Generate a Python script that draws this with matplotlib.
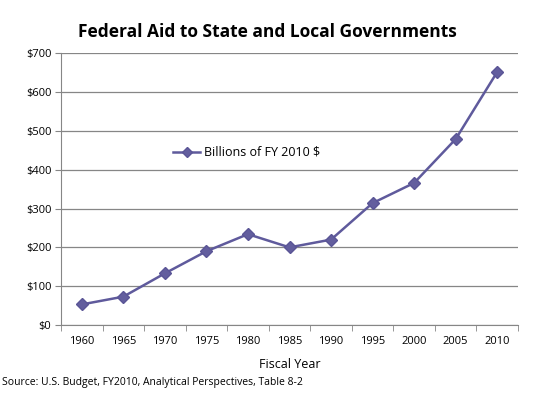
import numpy as np
import matplotlib.pyplot as plt
from matplotlib.ticker import FixedLocator

years = ['1960', '1965', '1970', '1975', '1980', '1985', '1990', '1995', '2000', '2005', '2010']
aid = [53, 73, 133, 190, 234, 200, 220, 314, 366, 479, 652]
yticks = [0, 100, 200, 300, 400, 500, 600, 700]

plt.rcParams['font.family'] = ['Open Sans', 'DejaVu Sans']

fig = plt.figure(figsize=(5.35, 3.98), dpi=100)
ax = fig.add_axes([61 / 535, 73 / 398, 457 / 535, 271.7 / 398])

x = np.arange(len(years))
ax.plot(x, aid, color='#5F5A9C', lw=1.8, marker='D', ms=6,
        markerfacecolor='#635E9E', markeredgecolor='#5A5596',
        label='Billions of FY 2010 $')

ax.set_xlim(-0.5, len(years) - 0.5)
ax.set_ylim(0, 700)
ax.set_xticks(x)
ax.set_xticklabels(years, fontsize=8)
ax.xaxis.set_minor_locator(FixedLocator(np.arange(-0.5, len(years), 1)))
ax.tick_params(axis='x', which='major', length=0, pad=8)
ax.tick_params(axis='x', which='minor', length=4, color='#868686')
ax.set_yticks(yticks)
ax.set_yticklabels(['$' + str(v) for v in yticks], fontsize=8)
ax.tick_params(axis='y', length=4, color='#868686', pad=3)

ax.grid(axis='y', color='#868686', lw=0.9)
ax.set_axisbelow(True)
for s in ['top', 'right']:
    ax.spines[s].set_visible(False)
for s in ['left', 'bottom']:
    ax.spines[s].set_color('#868686')

ax.set_xlabel('Fiscal Year', fontsize=9, labelpad=8)
fig.text(0.5, 1 - 32 / 398, 'Federal Aid to State and Local Governments',
         ha='center', va='center', fontsize=12.5, fontweight='bold')
fig.text(2 / 535, 1 - 382 / 398, 'Source: U.S. Budget, FY2010, Analytical Perspectives, Table 8-2',
         ha='left', va='center', fontsize=7.5)

ax.legend(loc='center left', bbox_to_anchor=(0.22, 0.635), frameon=False,
          fontsize=9, handlelength=2.2, handletextpad=0.3, markerscale=0.8)

fig.savefig('out.png', dpi=100)
